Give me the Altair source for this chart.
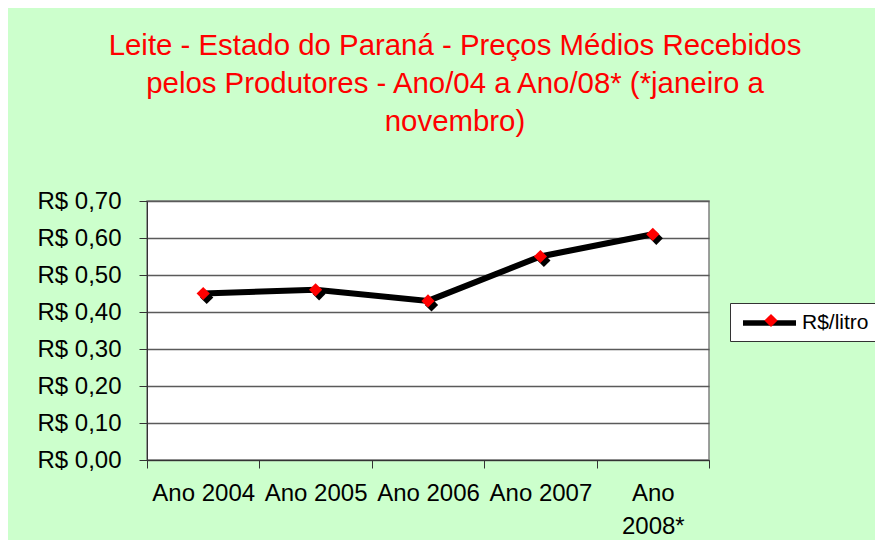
import altair as alt
import pandas as pd

categories = ["Ano 2004", "Ano 2005", "Ano 2006", "Ano 2007", "Ano 2008*"]
values = [0.45, 0.46, 0.43, 0.55, 0.61]
series_name = "R$/litro"
y_ticks = [0, 0.1, 0.2, 0.3, 0.4, 0.5, 0.6, 0.7]

df = pd.DataFrame({"ano": categories, "preco": values,
                   "serie": [series_name] * len(categories),
                   "serie2": [series_name] * len(categories)})

FONT = "Liberation Sans"
W, H = 562, 259
BAND = W / len(categories)

x_enc = alt.X("ano:N", sort=categories, title=None,
              scale=alt.Scale(paddingInner=0, paddingOuter=0),
              axis=alt.Axis(tickBand="extent", labelAngle=0, labelFontSize=24,
                            labelFont=FONT, labelColor="black", labelPadding=13,
                            tickSize=8, tickColor="#333333", domainColor="#333333",
                            labelBaseline="top", labelLineHeight=33,
                            labelExpr="datum.value == 'Ano 2008*' ? ['Ano', '2008*'] : datum.value",
                            grid=False))
y_enc = alt.Y("preco:Q", title=None,
              scale=alt.Scale(domain=[0, 0.7], nice=False, zero=True),
              axis=alt.Axis(values=y_ticks, labelFontSize=24, labelFont=FONT,
                            labelColor="black", labelPadding=18, tickSize=8,
                            tickColor="#333333", domainColor="#333333",
                            gridColor="#5a5a5a", gridWidth=1.5,
                            labelExpr="'R$ ' + replace(format(datum.value, '.2f'), '.', ',')"))

line = alt.Chart(df).mark_line(strokeWidth=6).encode(
    x=x_enc, y=y_enc,
    stroke=alt.Stroke("serie:N", scale=alt.Scale(range=["black"]),
                      legend=alt.Legend(title=None, orient="none", legendX=583, legendY=102,
                                        symbolType="M-0.7,0L4.6,0", symbolSize=400,
                                        symbolStrokeWidth=5.5, labelFontSize=21,
                                        labelFont=FONT, labelColor="black",
                                        fillColor="white", strokeColor="#333333",
                                        padding=7, labelOffset=39)),
)

shadow = alt.Chart(df).mark_point(shape="diamond", filled=True, size=175, opacity=1,
                                  color="black").encode(
    x=x_enc, y=y_enc, xOffset=alt.value(BAND / 2 + 3.5), yOffset=alt.value(4))

pts = alt.Chart(df).mark_point(shape="diamond", filled=True, size=175, opacity=1).encode(
    x=x_enc, y=y_enc,
    fill=alt.Fill("serie2:N", scale=alt.Scale(range=["#FF0000"]),
                  legend=alt.Legend(title=None, orient="none", legendX=606.5, legendY=102,
                                    symbolType="diamond", symbolSize=175,
                                    symbolStrokeWidth=0, labelExpr="''",
                                    labelFontSize=21, labelFont=FONT, padding=7)),
)

chart = alt.layer(line, shadow, pts).properties(
    width=W, height=H,
    padding={"left": 139, "top": 193, "right": 166, "bottom": 80},
    autosize=alt.AutoSizeParams(type="none"),
    background="#CCFFCC",
    title=alt.TitleParams(
        text=["Leite - Estado do Paraná - Preços Médios Recebidos",
              "pelos Produtores - Ano/04 a Ano/08* (*janeiro a",
              "novembro)"],
        fontSize=29.4, font=FONT, color="#FF0000", fontWeight="normal",
        lineHeight=38, anchor="middle", frame="group", dx=27, offset=52),
).configure_view(stroke="#808080", strokeWidth=1.5, fill="white")

chart.save("out.html", embed_options={"renderer": "svg", "actions": False})
